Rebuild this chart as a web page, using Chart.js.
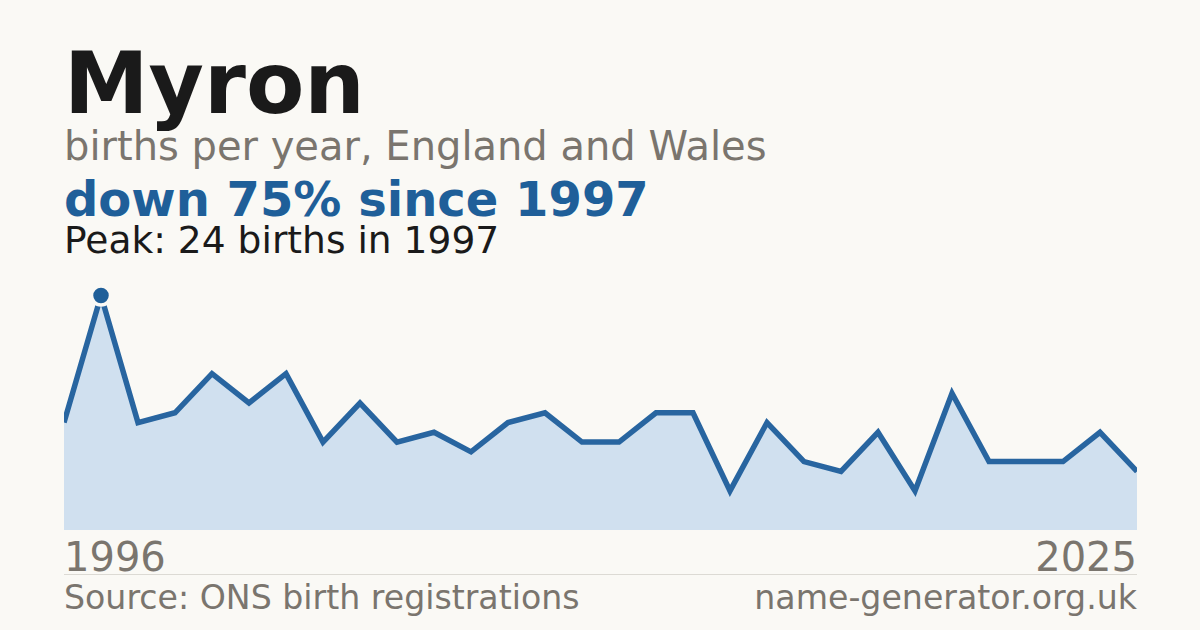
<!DOCTYPE html>
<html>
<head>
<meta charset="utf-8">
<script src="https://cdn.jsdelivr.net/npm/chart.js@4"></script>
<style>
  html, body { margin: 0; padding: 0; }
  body { width: 1200px; height: 630px; background: #faf9f5; position: relative; overflow: hidden; font-family: "DejaVu Sans", sans-serif; }
  .t { position: absolute; left: 64px; white-space: nowrap; line-height: 1; }
  #name { top: 41px; font-size: 85px; font-weight: bold; color: #1a1a1a; }
  #sub { top: 126px; font-size: 40px; color: #7a756e; }
  #trend { top: 175px; font-size: 48px; font-weight: bold; color: #1f5f99; }
  #peak { top: 222px; font-size: 37.6px; color: #1a1a1a; }
  #wrap { position: absolute; left: 64px; top: 276px; width: 1073px; height: 254px; }
  .yr { position: absolute; top: 537px; font-size: 40px; color: #7a756e; line-height: 1; }
  #rule { position: absolute; left: 64px; top: 574px; width: 1073px; height: 1px; background: #dcdad4; }
  .ft { position: absolute; top: 581px; font-size: 33.2px; color: #7a756e; line-height: 1; white-space: nowrap; }
</style>
</head>
<body>
<div class="t" id="name">Myron</div>
<div class="t" id="sub">births per year, England and Wales</div>
<div class="t" id="trend">down 75% since 1997</div>
<div class="t" id="peak">Peak: 24 births in 1997</div>
<div id="wrap"><canvas id="chart"></canvas></div>
<div class="yr" style="left:64px">1996</div>
<div class="yr" style="right:63px">2025</div>
<div id="rule"></div>
<div class="ft" style="left:64px">Source: ONS birth registrations</div>
<div class="ft" style="right:63px">name-generator.org.uk</div>
<script>
const years = [1996, 1997, 1998, 1999, 2000, 2001, 2002, 2003, 2004, 2005,
    2006, 2007, 2008, 2009, 2010, 2011, 2012, 2013, 2014, 2015,
    2016, 2017, 2018, 2019, 2020, 2021, 2022, 2023, 2024, 2025];
const births = [11, 24, 11, 12, 16, 13, 16, 9, 13, 9,
    10, 8, 11, 12, 9, 9, 12, 12, 4, 11,
    7, 6, 10, 4, 14, 7, 7, 7, 10, 6];
const peakYear = 1997;

const bg = '#faf9f5';
const pointSizes = years.map(y => y === peakYear ? 9.5 : 0);

const ctx = document.getElementById('chart').getContext('2d');
new Chart(ctx, {
    type: 'line',
    data: {
        labels: years,
        datasets: [{
            data: births,
            borderColor: '#2865a0',
            borderWidth: 5.5,
            backgroundColor: '#d0e0ef',
            fill: 'origin',
            tension: 0,
            pointRadius: pointSizes,
            pointHoverRadius: pointSizes,
            pointBackgroundColor: '#1f5f99',
            pointBorderColor: bg,
            pointBorderWidth: 3.5,
            clip: false
        }]
    },
    options: {
        responsive: true,
        maintainAspectRatio: false,
        animation: false,
        layout: { padding: 0 },
        plugins: {
            legend: { display: false },
            tooltip: { enabled: false }
        },
        scales: {
            x: { display: false },
            y: { display: false, min: 0, max: 26 }
        }
    }
});
</script>
</body>
</html>
